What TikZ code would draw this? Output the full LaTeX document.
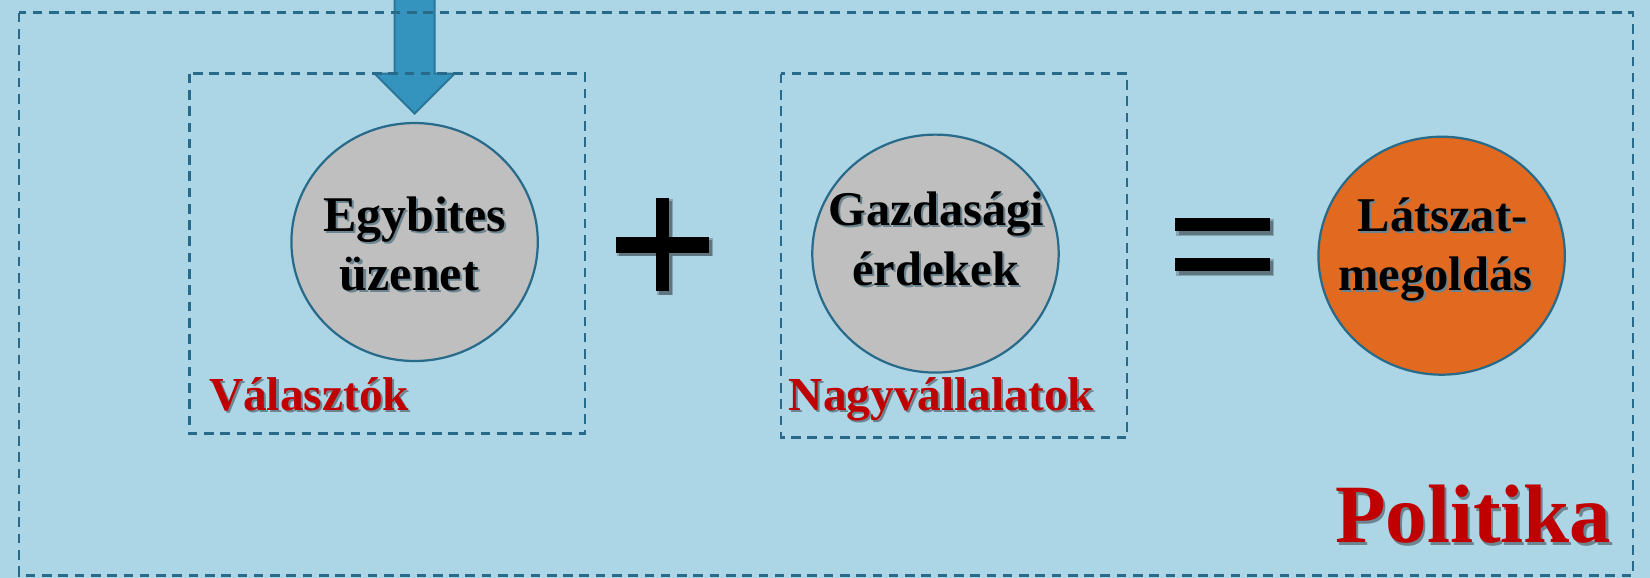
\documentclass[tikz,border=0pt]{standalone}
\usepackage{fontspec}
\setmainfont{Liberation Serif}
\usetikzlibrary{shapes.geometric}

\definecolor{bgblue}{RGB}{172,213,230}
\definecolor{frame}{RGB}{39,106,137}
\definecolor{arrowfill}{RGB}{52,148,190}
\definecolor{arrowline}{RGB}{43,118,152}
\definecolor{disc}{RGB}{191,191,191}
\definecolor{result}{RGB}{226,106,32}
\definecolor{label}{RGB}{192,0,0}
\colorlet{shade}{bgblue!55!black}
\colorlet{softshade}{bgblue!78!black}
\colorlet{textshade}{bgblue!62!black}

% text with a small drop shadow below and to the right
\newcommand{\shadowed}[1]{\makebox[0pt][l]{\kern0.55pt\raisebox{-0.55pt}{\textcolor{textshade}{#1}}}#1}

\tikzset{
  groupbox/.style={draw=frame, line width=0.7pt, dash pattern=on 2.6pt off 1.8pt},
  discnode/.style={ellipse, draw=frame, line width=0.6pt, inner sep=0pt,
                   minimum width=2.34cm, minimum height=2.26cm},
  disctext/.style={font=\fontsize{13.1}{16}\selectfont\bfseries, text=black,
                   inner sep=0pt, anchor=base},
  grouplabel/.style={font=\fontsize{12.8}{15}\selectfont\bfseries, text=label, inner sep=0pt},
  opbar/.style={fill=black},
  opshadow/.style={fill=shade},
  opsoftshadow/.style={fill=softshade},
}

\begin{document}
\begin{tikzpicture}[x=0.01cm,y=-0.01cm]
  % canvas
  \fill[bgblue] (0,0) rectangle (1568,549);
  \useasboundingbox (0,0) rectangle (1568,549);

  % incoming block arrow
  \filldraw[fill=arrowfill, draw=arrowline, line width=0.5pt, line join=miter]
    (375,-8) -- (375,70) -- (356,70) -- (394,108) -- (432,70) -- (413,70) -- (413,-8) -- cycle;

  % dashed group frames
  \draw[groupbox] (18,12) rectangle (1552,547);
  \draw[groupbox] (180,70) rectangle (556,412);
  \draw[groupbox] (742,70) rectangle (1071,416);

  % discs
  \node[discnode, fill=disc]   (msg)  at (394,230) {};
  \node[discnode, fill=disc]   (econ) at (889,241) {};
  \node[discnode, fill=result] (fake) at (1370,243) {};

  % disc texts
  \node[disctext, font=\fontsize{13.5}{16}\selectfont\bfseries] (msgA)  at (394,220)  {\shadowed{Egybites}};
  \node[disctext, font=\fontsize{13.5}{16}\selectfont\bfseries] (msgB)  at (389,276)  {\shadowed{üzenet}};
  \node[disctext] (econA) at (890,214)  {\shadowed{Gazdasági}};
  \node[disctext] (econB) at (889,271)  {\shadowed{érdekek}};
  \node[disctext] (fakeA) at (1371,220) {\shadowed{Látszat-}};
  \node[disctext] (fakeB) at (1364,276) {\shadowed{megoldás}};

  % group labels
  \node[grouplabel, anchor=base west] (voters) at (198,390) {\shadowed{Választók}};
  \node[grouplabel, anchor=base west] (corps)  at (749,390) {\shadowed{Nagyvállalatok}};
  \node[grouplabel, font=\fontsize{22.4}{27}\selectfont\bfseries, anchor=base east]
       (politics) at (1532,516) {\shadowed{Politika}};

  % plus sign with shadow
  \fill[opsoftshadow] (586,226) rectangle (678,243);
  \fill[opsoftshadow] (624,189) rectangle (640,280);
  \fill[opshadow] (588,228) rectangle (677,243);
  \fill[opshadow] (626,191) rectangle (639,280);
  \fill[opbar] (585,225) rectangle (674,240);
  \fill[opbar] (623,188) rectangle (636,277);

  % equals sign with shadow
  \fill[opsoftshadow] (1118,208) rectangle (1211,224);
  \fill[opsoftshadow] (1118,246) rectangle (1211,262);
  \fill[opshadow] (1120,210) rectangle (1210,223);
  \fill[opshadow] (1120,248) rectangle (1210,261);
  \fill[opbar] (1117,207) rectangle (1207,220);
  \fill[opbar] (1117,245) rectangle (1207,258);
\end{tikzpicture}
\end{document}
